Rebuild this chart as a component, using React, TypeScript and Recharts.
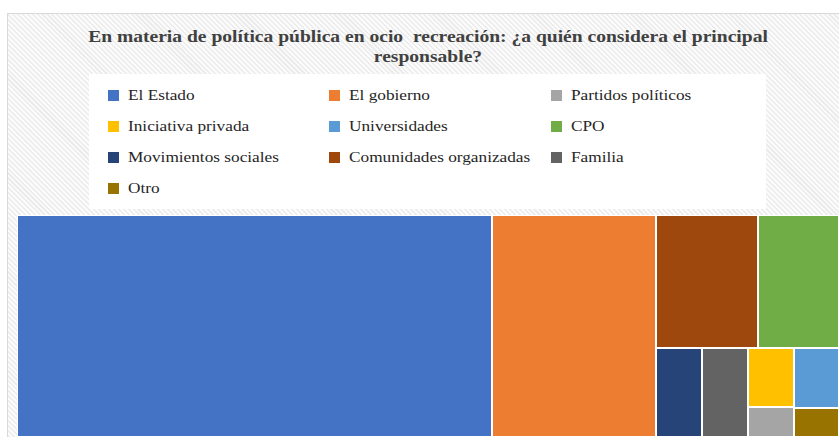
import React from "react";
import { Treemap } from "recharts";

const categories = [
  "El Estado",
  "El gobierno",
  "Partidos políticos",
  "Iniciativa privada",
  "Universidades",
  "CPO",
  "Movimientos sociales",
  "Comunidades organizadas",
  "Familia",
  "Otro",
];
const responses = [78, 27, 1, 2, 2, 8, 3, 10, 3, 1];
const colors = [
  "#4472C4",
  "#ED7D31",
  "#A5A5A5",
  "#FFC000",
  "#5B9BD5",
  "#70AD47",
  "#264478",
  "#9E480E",
  "#636363",
  "#997300",
];
// tiles go largest first; equal values keep the order seen in the original
const tileOrder = [
  "El Estado",
  "El gobierno",
  "Comunidades organizadas",
  "CPO",
  "Movimientos sociales",
  "Familia",
  "Iniciativa privada",
  "Partidos políticos",
  "Universidades",
  "Otro",
];
const titleLines = [
  "En materia de política pública en ocio  recreación: ¿a quién considera el principal",
  "responsable?",
];

const tiles = tileOrder.map((name) => {
  const i = categories.indexOf(name);
  return { name, size: responses[i] };
});

const font = '"Liberation Serif", "Times New Roman", serif';

function Tile(props: any) {
  const { x, y, width, height, depth, name } = props;
  if (depth !== 1) return <g />;
  const i = categories.indexOf(name);
  return (
    <rect
      x={x}
      y={y}
      width={width}
      height={height}
      fill={colors[i]}
      stroke="#ffffff"
      strokeWidth={2}
    />
  );
}

export default function App() {
  return (
    <div
      style={{
        position: "absolute",
        left: 0,
        top: 0,
        width: 839,
        height: 437,
        overflow: "hidden",
        background: "#fff",
      }}
    >
      {/* chart frame with hatched fill */}
      <div
        style={{
          position: "absolute",
          left: 7,
          top: 13,
          width: 850,
          height: 450,
          border: "1px solid #d9d9d9",
          background:
            "repeating-linear-gradient(45deg, #fbfbfb 0px, #fbfbfb 2px, #ececec 2px, #ececec 3.5px)",
        }}
      />
      {/* title */}
      {titleLines.map((line, k) => (
        <div
          key={k}
          style={{
            position: "absolute",
            left: 28,
            width: 800,
            top: 27 + k * 20,
            textAlign: "center",
            fontFamily: font,
            fontWeight: "bold",
            fontSize: 17,
            lineHeight: "20px",
            color: "#404040",
            whiteSpace: "pre",
            transform: "scaleX(1.15)",
            transformOrigin: "400px 0",
          }}
        >
          {line}
        </div>
      ))}
      {/* legend box */}
      <div
        style={{
          position: "absolute",
          left: 89,
          top: 74,
          width: 677,
          height: 135,
          background: "#ffffff",
        }}
      />
      {categories.map((name, i) => {
        const col = i % 3;
        const row = Math.floor(i / 3);
        const mx = [108, 329, 551][col];
        const cy = 95 + row * 31;
        return (
          <React.Fragment key={name}>
            <div
              style={{
                position: "absolute",
                left: mx,
                top: cy - 5.5,
                width: 11,
                height: 11,
                background: colors[i],
              }}
            />
            <div
              style={{
                position: "absolute",
                left: mx + 20,
                top: cy - 8,
                fontFamily: font,
                fontSize: 15,
                lineHeight: "17px",
                color: "#262626",
                whiteSpace: "nowrap",
                transform: "scaleX(1.15)",
                transformOrigin: "0 0",
              }}
            >
              {name}
            </div>
          </React.Fragment>
        );
      })}
      {/* treemap */}
      <div style={{ position: "absolute", left: 17, top: 215 }}>
        <Treemap
          width={822}
          height={222}
          data={tiles}
          dataKey="size"
          nameKey="name"
          aspectRatio={1}
          isAnimationActive={false}
          content={<Tile />}
        />
      </div>
    </div>
  );
}
